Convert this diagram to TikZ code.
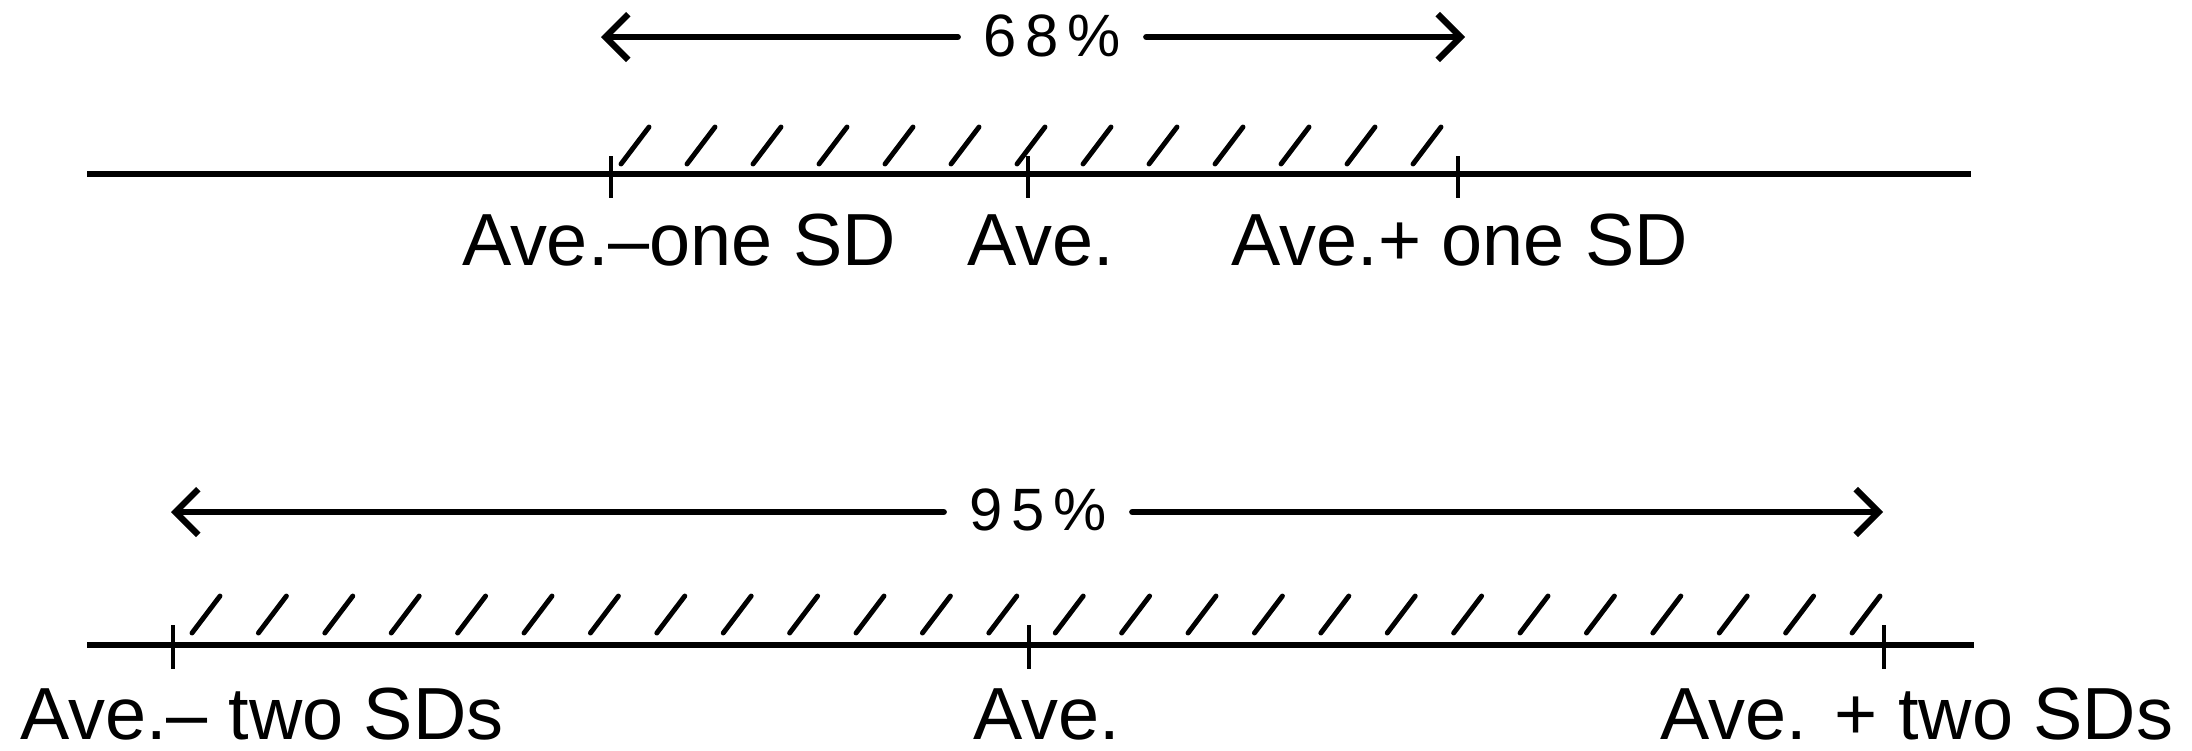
\documentclass[tikz,border=0pt]{standalone}
\usepackage{fontspec}
\setmainfont{Liberation Sans}
\usetikzlibrary{positioning, arrows.meta}

\begin{document}
\begin{tikzpicture}[
        x=0.01cm, y=-0.01cm,
        axis/.style  = {line width=1.5pt},
        tick/.style  = {line width=1.2pt},
        hatch/.style = {line width=1.4pt, line cap=round},
        arrow/.style = {-{Straight Barb[length=6.5pt, width=13pt, line width=1.8pt]}, line width=1.7pt, line cap=round},
        pct/.style   = {inner ysep=0pt, inner xsep=7pt, font=\fontsize{17}{20}\selectfont\addfontfeatures{LetterSpace=15}},
        lbl/.style   = {anchor=base, inner sep=0pt, font=\fontsize{21}{25}\selectfont},
    ]
        \useasboundingbox (0,0) rectangle (2192,750);
        % one SD
        \coordinate (a1) at (87,174);
        \coordinate (b1) at (1971,174);
        \coordinate (lo1) at (611,174);
        \coordinate (mid1) at (1028,174);
        \coordinate (hi1) at (1458,174);
        \draw[axis] (a1) -- (b1);
        \foreach \t in {lo1, mid1, hi1}
            \draw[tick] (\t) ++(0,-18) -- ++(0,42);
        \foreach \i in {0,...,12}
            \draw[hatch] (lo1) ++({10+66*\i},-10) -- ++(28,-37);
        \node[pct] (p68) at (1052,36) {68\%};
        \coordinate (l68) at (601,37);
        \coordinate (r68) at (1465,37);
        \draw[arrow] (p68.west |- l68) -- (l68);
        \draw[arrow] (p68.east |- r68) -- (r68);
        \node[lbl] (lblo1) at (679,265) {Ave.--one SD};
        \node[lbl] (lbmid1) at (1041,265) {Ave.};
        \node[lbl] (lbhi1) at (1460,265) {Ave.+ one SD};
        % two SDs
        \coordinate (a2) at (87,645);
        \coordinate (b2) at (1974,645);
        \coordinate (lo2) at (173,645);
        \coordinate (mid2) at (1029,645);
        \coordinate (hi2) at (1884,645);
        \draw[axis] (a2) -- (b2);
        \foreach \t in {lo2, mid2, hi2}
            \draw[tick] (\t) ++(0,-20) -- ++(0,44);
        \foreach \i in {0,...,25}
            \draw[hatch] (lo2) ++({19+66.4*\i},-12) -- ++(28,-37);
        \node[pct] (p95) at (1038,510) {95\%};
        \coordinate (l95) at (171,512);
        \coordinate (r95) at (1883,512);
        \draw[arrow] (p95.west |- l95) -- (l95);
        \draw[arrow] (p95.east |- r95) -- (r95);
        \node[lbl] (lblo2) at (262,739) {Ave.-- two SDs};
        \node[lbl] (lbmid2) at (1047,739) {Ave.};
        \node[lbl] (lbhi2) at (1917,739) {Ave. + two SDs};
\end{tikzpicture}
\end{document}
